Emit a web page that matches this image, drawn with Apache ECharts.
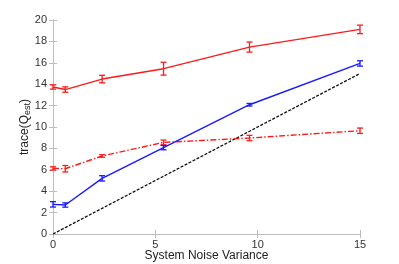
<!DOCTYPE html>
<html><head><meta charset="utf-8">
<script src="https://cdn.jsdelivr.net/npm/echarts@6/dist/echarts.min.js"></script>
<style>html,body{margin:0;padding:0;background:#fff}#c{width:399px;height:264px}</style>
</head><body><div id="c"></div>
<script>
const xVals = [0, 0.6, 2.4, 5.4, 9.6, 15];
const redSolid = [13.74, 13.5, 14.48, 15.45, 17.47, 19.12];
const redSolidErr = [0.2, 0.25, 0.35, 0.6, 0.47, 0.4];
const redDash = [6.13, 6.1, 7.29, 8.56, 8.97, 9.65];
const redDashErr = [0.15, 0.3, 0.12, 0.22, 0.25, 0.25];
const blueSolid = [2.77, 2.71, 5.2, 8.07, 12.08, 15.94];
const blueSolidErr = [0.25, 0.2, 0.25, 0.2, 0.12, 0.25];
const blackRef = [0, 0.6, 2.4, 5.4, 9.6, 15];
const xTicks = [0, 5, 10, 15];
const yTicks = [0, 2, 4, 6, 8, 10, 12, 14, 16, 18, 20];

const pts = (ys) => xVals.map((x, i) => [x, ys[i]]);
const errData = (ys, es) => xVals.map((x, i) => [x, ys[i] - es[i], ys[i] + es[i]]);

function errSeries(ys, es, color) {
  return {
    type: 'custom', xAxisIndex: 0, yAxisIndex: 0, z: 5,
    data: errData(ys, es),
    renderItem: function (params, api) {
      const x = api.value(0);
      const lo = api.coord([x, api.value(1)]);
      const hi = api.coord([x, api.value(2)]);
      const w = 3;
      const st = { stroke: color, lineWidth: 1.3, fill: null };
      return { type: 'group', children: [
        { type: 'line', shape: { x1: lo[0], y1: lo[1], x2: hi[0], y2: hi[1] }, style: st },
        { type: 'line', shape: { x1: lo[0] - w, y1: lo[1], x2: lo[0] + w, y2: lo[1] }, style: st },
        { type: 'line', shape: { x1: hi[0] - w, y1: hi[1], x2: hi[0] + w, y2: hi[1] }, style: st }
      ]};
    }
  };
}

const axisLineStyle = { lineStyle: { color: '#bdbdbd', width: 1 } };
const tickStyle = { inside: true, length: 4, lineStyle: { color: '#bdbdbd' } };
const labelStyle = { color: '#333', fontFamily: 'Liberation Sans', fontSize: 11 };

const chart = echarts.init(document.getElementById('c'), null, { renderer: 'canvas' });
chart.setOption({
  animation: false,
  backgroundColor: '#fff',
  grid: { left: 53, right: 39, top: 20, bottom: 30, containLabel: false, outerBoundsMode: 'none' },
  xAxis: [
    { type: 'value', min: 0, max: 15, interval: 5, position: 'bottom',
      axisLine: axisLineStyle, axisTick: tickStyle, splitLine: { show: false },
      axisLabel: Object.assign({ margin: 5 }, labelStyle),
      name: 'System Noise Variance', nameLocation: 'middle', nameGap: 16, nameMoveOverlap: false,
      nameTextStyle: { color: '#222', fontFamily: 'Liberation Sans', fontSize: 12 } },
    { type: 'value', min: 0, max: 15, interval: 5, position: 'top',
      axisLine: axisLineStyle, axisTick: tickStyle, splitLine: { show: false },
      axisLabel: { show: false } }
  ],
  yAxis: [
    { type: 'value', min: 0, max: 20, interval: 2, position: 'left',
      axisLine: { show: true, lineStyle: { color: '#bdbdbd' } }, axisTick: Object.assign({ show: true }, tickStyle),
      splitLine: { show: false },
      axisLabel: Object.assign({ margin: 6 }, labelStyle),
      name: 'trace(Q{sub|est})', nameLocation: 'middle', nameGap: 21, nameRotate: 90, nameMoveOverlap: false,
      nameTextStyle: { color: '#222', fontFamily: 'Liberation Sans', fontSize: 12,
        rich: { sub: { fontSize: 9, verticalAlign: 'bottom', padding: [6, 0, 0, 0], fontFamily: 'Liberation Sans', color: '#222' } } } },
    { type: 'value', min: 0, max: 20, interval: 2, position: 'right',
      axisLine: { show: true, lineStyle: { color: '#bdbdbd' } }, axisTick: Object.assign({ show: true }, tickStyle),
      splitLine: { show: false }, axisLabel: { show: false } }
  ],
  series: [
    { type: 'line', data: pts(blackRef), symbol: 'none', z: 2,
      lineStyle: { color: '#111', width: 1.3, type: [3, 1.5] } },
    { type: 'line', data: pts(redSolid), symbol: 'none', z: 3,
      lineStyle: { color: '#ff1a1a', width: 1.4 } },
    { type: 'line', data: pts(redDash), symbol: 'none', z: 3,
      lineStyle: { color: '#ff1a1a', width: 1.4, type: [6, 2, 1.5, 2] } },
    { type: 'line', data: pts(blueSolid), symbol: 'none', z: 3,
      lineStyle: { color: '#1a1aff', width: 1.4 } },
    errSeries(redSolid, redSolidErr, '#ff1a1a'),
    errSeries(redDash, redDashErr, '#ff1a1a'),
    errSeries(blueSolid, blueSolidErr, '#1a1aff')
  ]
});
</script></body></html>
